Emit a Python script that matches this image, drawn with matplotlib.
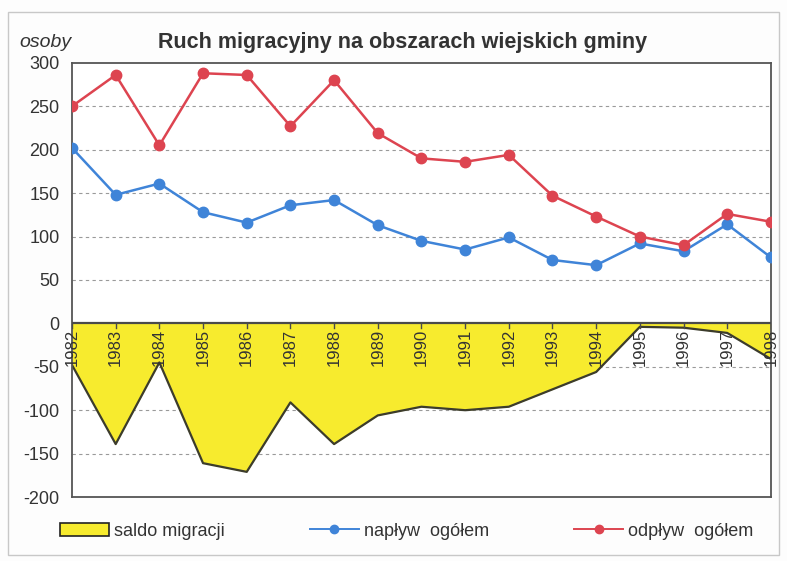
import matplotlib
matplotlib.use('Agg')
import matplotlib.pyplot as plt
from matplotlib.patches import Patch, Rectangle
from matplotlib.lines import Line2D

# dane
lata = [1982, 1983, 1984, 1985, 1986, 1987, 1988, 1989, 1990,
        1991, 1992, 1993, 1994, 1995, 1996, 1997, 1998]
naplyw = [202, 148, 161, 128, 116, 136, 142, 113, 95,
          85, 99, 73, 67, 92, 83, 114, 76]
odplyw = [250, 286, 205, 288, 286, 227, 280, 219, 190,
          186, 194, 147, 123, 100, 90, 126, 117]
saldo = [-48, -139, -45, -161, -171, -91, -139, -106, -96,
         -100, -96, -76, -56, -4, -5, -11, -41]
y_ticks = [300, 250, 200, 150, 100, 50, 0, -50, -100, -150, -200]

plt.rcParams['font.family'] = ['Liberation Sans', 'DejaVu Sans']
plt.rcParams['axes.unicode_minus'] = False

fig = plt.figure(figsize=(7.87, 5.61), dpi=100)
fig.patch.set_facecolor('#fdfdfd')
ax = fig.add_axes([0.0915, 0.114, 0.888, 0.774])

# saldo - pole zolte
ax.fill_between(lata, saldo, 0, color='#f7eb2e', linewidth=0, zorder=1)
ax.plot(lata, saldo, color='#3c3c2c', linewidth=1.6, zorder=2)
ax.axhline(0, color='#4a4a4a', linewidth=1.6, zorder=3)

ax.plot(lata, naplyw, color='#3f84d8', linewidth=1.8, marker='o',
        markersize=7.5, zorder=4)
ax.plot(lata, odplyw, color='#dd4450', linewidth=1.8, marker='o',
        markersize=7.5, zorder=5)

ax.set_xlim(lata[0], lata[-1])
ax.set_ylim(-200, 300)
ax.set_yticks(y_ticks)
ax.tick_params(axis='y', length=0, labelsize=13, pad=9, colors='#333333')
ax.set_xticks([])
for v in y_ticks:
    if v not in (0, 300, -200):
        ax.axhline(v, color='#9a9a9a', linestyle=(0, (3, 3)), linewidth=0.8, zorder=0)

# etykiety lat przy osi zero
for r in lata:
    ax.plot([r, r], [0, -5], color='#4a4a4a', linewidth=1, zorder=3)
    ax.text(r, -6, str(r), rotation=90, ha='center', va='top',
            fontsize=12, color='#333333', zorder=6)

for s in ax.spines.values():
    s.set_color('#555555')
    s.set_linewidth(1.3)

fig.text(0.512, 0.925, 'Ruch migracyjny na obszarach wiejskich gminy',
         ha='center', va='center', fontsize=15.5, fontweight='bold', color='#333333')
fig.text(0.024, 0.925, 'osoby', ha='left', va='center', fontsize=14,
         style='italic', color='#333333')

uchwyty = [Patch(facecolor='#f7eb2e', edgecolor='#222222', linewidth=1.2),
           Line2D([], [], color='#3f84d8', marker='o', markersize=6, linewidth=1.4),
           Line2D([], [], color='#dd4450', marker='o', markersize=6, linewidth=1.4)]
fig.legend(uchwyty, ['saldo migracji', 'napływ  ogółem', 'odpływ  ogółem'],
           loc='center', bbox_to_anchor=(0.517, 0.053), ncol=3, frameon=False,
           handlelength=2.7, handletextpad=0.3, columnspacing=4.7,
           prop={'size': 13}, labelcolor='#333333')

fig.add_artist(Rectangle((0.01, 0.01), 0.98, 0.968, transform=fig.transFigure,
                         fill=False, edgecolor='#c8c8c8', linewidth=1))

fig.savefig('out.png', dpi=100, facecolor=fig.get_facecolor())
